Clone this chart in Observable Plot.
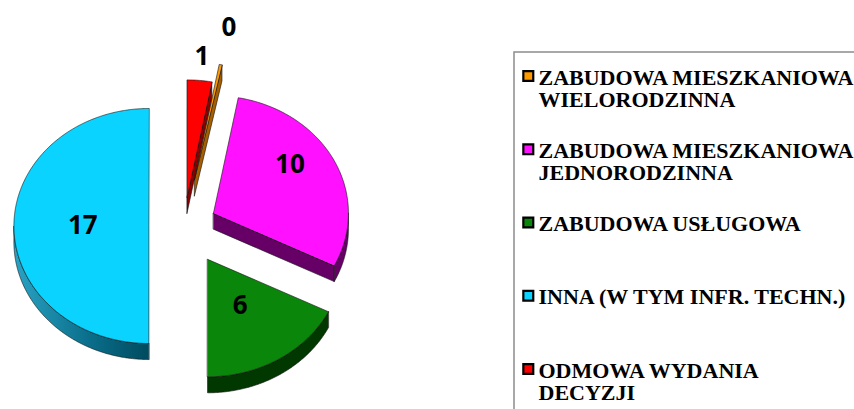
<!DOCTYPE html>
<html><head><meta charset="utf-8">
<script src="https://cdn.jsdelivr.net/npm/d3@7"></script>
<script src="https://cdn.jsdelivr.net/npm/@observablehq/plot@0.6"></script>
<style>html,body{margin:0;padding:0;background:#fff;overflow:hidden}</style>
</head><body><div id="chart"></div>
<script>
// ---- data ----
const categories = [
  "ZABUDOWA MIESZKANIOWA WIELORODZINNA",
  "ZABUDOWA MIESZKANIOWA JEDNORODZINNA",
  "ZABUDOWA USŁUGOWA",
  "INNA (W TYM INFR. TECHN.)",
  "ODMOWA WYDANIA DECYZJI"
];
const legendLabels = [
  "ZABUDOWA MIESZKANIOWA\nWIELORODZINNA",
  "ZABUDOWA MIESZKANIOWA\nJEDNORODZINNA",
  "ZABUDOWA USŁUGOWA",
  "INNA (W TYM INFR. TECHN.)",
  "ODMOWA WYDANIA\nDECYZJI"
];
const values = [0, 10, 6, 17, 1];
const valueLabels = ["0", "10", "6", "17", "1"];

// ---- styles ----
const topColors = ["#ff9900", "#ff10ff", "#0a870a", "#0bd3ff", "#ff0000"];
const sideColors = ["#a65f00", "#660066", "#003800", "url(#cyanSide)", "#8a0000"];
const W = 854, H = 409;
const pie = {cx: 183.4, cy: 225.5, rx: 135, ry: 117.5, depth: 16, startDeg: 10.6, minSweepDeg: 1.2};
const explode = [54, 33, 45, 35, 33];
const labelFrac = [1.32, 0.7, 0.46, 0.49, 1.2];
const labelTurnDeg = [0, -9.5, 0, 0, 0];
const legend = {x: 514, y: 52, sq: 527.8, tx: 538, top: 68, step: 73.25};
const serif = "'Liberation Serif', 'Times New Roman', Times, serif";

const rad = Math.PI / 180;
const total = d3.sum(values);
let acc = pie.startDeg * rad;
const slices = values.map((v, i) => {
  const s = acc;
  const sweep = v / total * 2 * Math.PI;
  acc += sweep;
  const e = v > 0 ? s + sweep : s + pie.minSweepDeg * rad;
  const b = (s + e) / 2;
  const ox = pie.cx + explode[i] * Math.sin(b);
  const oy = pie.cy - explode[i] * (pie.ry / pie.rx) * Math.cos(b);
  return {i, v, s, e, b, ox, oy};
});

const pt = (sl, a, dz = 0) => ({x: sl.ox + pie.rx * Math.sin(a), y: sl.oy - pie.ry * Math.cos(a) + dz});
const arc = (sl, a0, a1, dz = 0) => {
  const n = Math.max(2, Math.ceil(Math.abs(a1 - a0) / (0.5 * rad)));
  return d3.range(n + 1).map(k => pt(sl, a0 + (a1 - a0) * k / n, dz));
};

// faces, back to front
const faces = [];
const order = [...slices].sort((a, b) => a.oy - b.oy);
for (const sl of order) {
  const apex = {x: sl.ox, y: sl.oy};
  const apexD = {x: sl.ox, y: sl.oy + pie.depth};
  if (Math.sin(sl.e) > 0.01) {
    faces.push({fill: sideColors[sl.i], pts: [apex, pt(sl, sl.e), pt(sl, sl.e, pie.depth), apexD]});
  }
  if (Math.sin(sl.s) < -0.01) {
    faces.push({fill: sideColors[sl.i], pts: [apex, pt(sl, sl.s), pt(sl, sl.s, pie.depth), apexD]});
  }
  const r0 = Math.max(sl.s, 90 * rad), r1 = Math.min(sl.e, 270 * rad);
  if (r1 > r0) {
    faces.push({fill: sideColors[sl.i], pts: [...arc(sl, r0, r1), ...arc(sl, r1, r0, pie.depth)]});
  }
  faces.push({fill: topColors[sl.i], pts: [apex, ...arc(sl, sl.s, sl.e)]});
}

const legendIdx = d3.range(categories.length);
const lab = d => (d.b + labelTurnDeg[d.i] * rad);

const marks = [
  ...faces.map(f => Plot.line(f.pts, {
    x: "x", y: "y", fill: f.fill, stroke: "#111", strokeWidth: 0.7, strokeOpacity: 0.85,
    curve: "linear-closed", strokeLinejoin: "round"
  })),
  Plot.text(slices, {
    x: d => d.ox + labelFrac[d.i] * pie.rx * Math.sin(lab(d)),
    y: d => d.oy - labelFrac[d.i] * pie.ry * Math.cos(lab(d)),
    text: d => valueLabels[d.i],
    fontSize: 26, fontWeight: 700, fontFamily: "Open Sans", fill: "#000"
  }),
  Plot.rect([0], {x1: () => legend.x, x2: () => W + 60, y1: () => legend.y, y2: () => H + 60,
    fill: "none", stroke: "#8c8c8c", strokeWidth: 1.5}),
  ...legendIdx.map(i => Plot.dot([i], {
    x: () => legend.sq, y: () => legend.top + i * legend.step + 7.5,
    symbol: "square", r: 5.6, fill: topColors[i], stroke: "#000", strokeWidth: 2.2
  })),
  Plot.text(legendIdx, {
    x: () => legend.tx, y: i => legend.top + i * legend.step,
    text: i => legendLabels[i], textAnchor: "start", lineAnchor: "top", lineHeight: 1.03,
    fontSize: 22, fontFamily: serif, fontWeight: 700, fill: "#000"
  })
];

const chart = Plot.plot({
  width: W, height: H, margin: 0,
  x: {domain: [0, W], range: [0, W], axis: null},
  y: {domain: [0, H], range: [0, H], axis: null},
  style: {background: "#fff", overflow: "hidden"},
  marks
});

const defs = d3.select(chart).insert("defs", ":first-child");
const g = defs.append("linearGradient").attr("id", "cyanSide")
  .attr("x1", 0).attr("x2", 1).attr("y1", 0).attr("y2", 0);
g.append("stop").attr("offset", "0%").attr("stop-color", "#2aa3c4");
g.append("stop").attr("offset", "55%").attr("stop-color", "#0a6f8c");
g.append("stop").attr("offset", "100%").attr("stop-color", "#004b5f");

document.getElementById("chart").appendChild(chart);
</script>
</body></html>
